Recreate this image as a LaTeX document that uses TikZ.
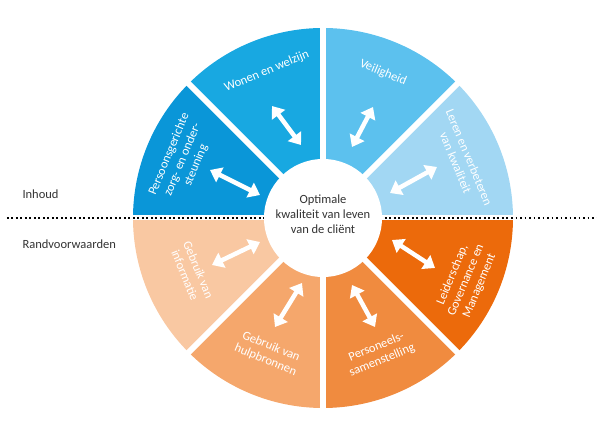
\documentclass[tikz,border=0pt]{standalone}
\usepackage{fontspec}
\setmainfont{Carlito}
\usetikzlibrary{arrows.meta}
\definecolor{bluePers}{HTML}{0A96D8}
\definecolor{blueWon}{HTML}{18A8E1}
\definecolor{blueVeil}{HTML}{5CC1EE}
\definecolor{blueLer}{HTML}{A2D7F3}
\definecolor{orLeid}{HTML}{EC6A0B}
\definecolor{orPers}{HTML}{F08B3F}
\definecolor{orHulp}{HTML}{F5A76C}
\definecolor{orInfo}{HTML}{F9C8A2}
\definecolor{txtgray}{HTML}{333333}
\begin{document}
\begin{tikzpicture}[x=1pt, y=1pt,
    seglabel/.style={text=white, font=\fontsize{12.5}{14.5}\selectfont, align=center},
    sidelabel/.style={text=txtgray, font=\fontsize{12.5}{14}\selectfont, anchor=west},
    dblarrow/.style={white, line width=4.5pt, {Triangle[width=16pt,length=11pt]}-{Triangle[width=16pt,length=11pt]}},
    gap/.style={white, line width=6pt}]
    \useasboundingbox (-323,-212) rectangle (274,218);
    \coordinate (M) at (0, 0);
    \fill[bluePers] (M) -- (135:190) arc[start angle=135, end angle=180, radius=190] -- cycle;
    \fill[blueWon] (M) -- (90:190) arc[start angle=90, end angle=135, radius=190] -- cycle;
    \fill[blueVeil] (M) -- (45:190) arc[start angle=45, end angle=90, radius=190] -- cycle;
    \fill[blueLer] (M) -- (0:190) arc[start angle=0, end angle=45, radius=190] -- cycle;
    \fill[orLeid] (M) -- (315:190) arc[start angle=315, end angle=360, radius=190] -- cycle;
    \fill[orPers] (M) -- (270:190) arc[start angle=270, end angle=315, radius=190] -- cycle;
    \fill[orHulp] (M) -- (225:190) arc[start angle=225, end angle=270, radius=190] -- cycle;
    \fill[orInfo] (M) -- (180:190) arc[start angle=180, end angle=225, radius=190] -- cycle;
    \draw[gap] (M) -- (45:195);
    \draw[gap] (M) -- (90:195);
    \draw[gap] (M) -- (135:195);
    \draw[gap] (M) -- (225:195);
    \draw[gap] (M) -- (270:195);
    \draw[gap] (M) -- (315:195);
    \draw[white, line width=5pt] (-195, 0) -- (195, 0);
    \coordinate (dl) at (-316, 0);
    \coordinate (dr) at (274, 0);
    \draw[black, line width=1.8pt, dash pattern=on 1.8pt off 2.7pt] (dl) -- (dr);
    \fill[white] (M) circle (59);
    \node[text=txtgray, font=\fontsize{12.5}{15}\selectfont, align=center] (doel) at (0, 4)
        {Optimale\\kwaliteit van leven\\van de cliënt};
    \node[sidelabel] (inhoud) at (-304, 24) {Inhoud};
    \node[sidelabel] (rand) at (-304, -26) {Randvoorwaarden};
    \node[seglabel, rotate=67.5] (persoons) at (157.5:152) {Persoonsgerichte\\zorg- en onder-\\steuning};
    \node[seglabel, rotate=22.5] (wonen) at (111:157) {Wonen en welzijn};
    \node[seglabel, rotate=-22.5] (veilig) at (67.5:157) {Veiligheid};
    \node[seglabel, rotate=-67.5] (leren) at (22.5:151) {Leren en verbeteren\\van kwaliteit};
    \node[seglabel, rotate=-67.5] (info) at (202.5:142) {Gebruik van\\informatie};
    \node[seglabel, rotate=-22.5] (hulp) at (248:146) {Gebruik van\\hulpbronnen};
    \node[seglabel, rotate=22.5] (perso) at (292.5:147) {Personeels-\\samenstelling};
    \node[seglabel, rotate=67.5] (leid) at (336.5:156) {Leiderschap,\\Governance en\\Management};
    \coordinate (pA) at (-113, 48);
    \coordinate (pB) at (-63, 23);
    \coordinate (wA) at (-51, 112);
    \coordinate (wB) at (-22, 73);
    \coordinate (vA) at (50, 111);
    \coordinate (vB) at (29, 71);
    \coordinate (lA) at (114, 51);
    \coordinate (lB) at (67, 25);
    \coordinate (iA) at (-63, -24);
    \coordinate (iB) at (-111, -47);
    \coordinate (hA) at (-21, -65);
    \coordinate (hB) at (-48, -109);
    \coordinate (sA) at (29, -67);
    \coordinate (sB) at (52, -109);
    \coordinate (gA) at (69, -22);
    \coordinate (gB) at (112, -50);
    \draw[dblarrow] (pA) -- (pB);
    \draw[dblarrow] (wA) -- (wB);
    \draw[dblarrow] (vA) -- (vB);
    \draw[dblarrow] (lA) -- (lB);
    \draw[dblarrow] (iA) -- (iB);
    \draw[dblarrow] (hA) -- (hB);
    \draw[dblarrow] (sA) -- (sB);
    \draw[dblarrow] (gA) -- (gB);
\end{tikzpicture}
\end{document}
